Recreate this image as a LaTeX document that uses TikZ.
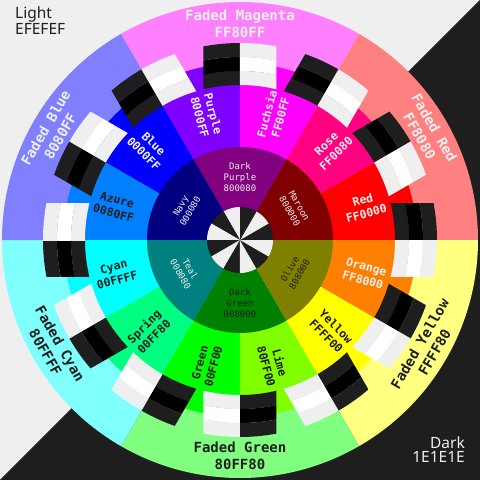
\documentclass[tikz,border=0pt]{standalone}
\usepackage{fontspec}
\setmainfont{Open Sans}
\newfontfamily\labelfont{DejaVu Sans Mono}
\newfontfamily\cornerfont{Noto Sans}
\usetikzlibrary{calc}
\definecolor{mylight}{HTML}{EFEFEF}
\definecolor{mydark}{HTML}{1E1E1E}

\begin{document}
\begin{tikzpicture}[x=1pt, y=1pt,
    fadedlabel/.style={font={\labelfont\bfseries\fontsize{14}{17}\selectfont}, align=center, inner sep=0pt},
    midlabel/.style={font={\labelfont\bfseries\fontsize{11.5}{14}\selectfont}, align=center, inner sep=0pt},
    darklabel/.style={font={\labelfont\fontsize{9}{11}\selectfont}, align=center, inner sep=0pt},
    cornerlabel/.style={font={\cornerfont\fontsize{15.5}{14.5}\selectfont}, inner sep=0pt}]
\useasboundingbox (-240,-240) rectangle (240,240);

% Background
\fill[mylight] (-240,-240) rectangle (240,240);
\fill[mydark] (240,240) -- (240,-240) -- (-240,-240) -- cycle;

% Faded ring
\foreach \name/\hex/\c/\tc [count=\i from 0] in {Faded Magenta/FF80FF/90/mylight, Faded Red/FF8080/30/mylight,
    Faded Yellow/FFFF80/-30/mydark, Faded Green/80FF80/-90/mydark,
    Faded Cyan/80FFFF/-150/mydark, Faded Blue/8080FF/150/mylight} {
    \definecolor{cur}{HTML}{\hex}
    \fill[cur] (0,0) -- (\c-30:238pt) arc[start angle=\c-30, end angle=\c+30, radius=238pt] -- cycle;
}

% Full ring
\foreach \name/\hex/\c/\tc [count=\i from 0] in {Red/FF0000/15/mylight, Rose/FF0080/45/mylight,
    Fuchsia/FF00FF/75/mylight, Purple/8000FF/105/mylight, Blue/0000FF/135/mylight,
    Azure/0080FF/165/mydark, Cyan/00FFFF/195/mydark, Spring/00FF80/225/mydark,
    Green/00FF00/255/mydark, Lime/80FF00/285/mydark, Yellow/FFFF00/315/mydark,
    Orange/FF8000/345/mylight} {
    \definecolor{cur}{HTML}{\hex}
    \fill[cur] (0,0) -- (\c-15:177pt) arc[start angle=\c-15, end angle=\c+15, radius=177pt] -- cycle;
}

% Swatches
\foreach \b in {0,30,...,330} {
    \begin{scope}[rotate=\b-90]
    \foreach \rin/\dk/\lt in {155/mydark/mylight, 169/black/white, 183/mydark/mylight} {
        \pgfmathsetmacro\rout{\rin+14}
        \begin{scope}
            \clip (-36.5,0) rectangle (0,240);
            \fill[\dk, even odd rule] (0,0) circle (\rout pt) (0,0) circle (\rin pt);
        \end{scope}
        \begin{scope}
            \clip (0,0) rectangle (36.5,240);
            \fill[\lt, even odd rule] (0,0) circle (\rout pt) (0,0) circle (\rin pt);
        \end{scope}
    }
    \end{scope}
}

% Dark ring
\foreach \name/\hex/\c/\tc [count=\i from 0] in {Maroon/800000/30/mylight, Dark\\Purple/800080/90/mylight,
    Navy/000080/150/mylight, Teal/008080/210/mylight, Dark\\Green/008000/270/mydark,
    Olive/808000/330/mydark} {
    \definecolor{cur}{HTML}{\hex}
    \fill[cur] (0,0) -- (\c-30:93pt) arc[start angle=\c-30, end angle=\c+30, radius=93pt] -- cycle;
}

% Centre
\foreach \a in {0,60,...,300} {
    \fill[mydark] (0,0) -- (\a:33pt) arc[start angle=\a, end angle=\a+30, radius=33pt] -- cycle;
    \fill[mylight] (0,0) -- (\a+30:33pt) arc[start angle=\a+30, end angle=\a+60, radius=33pt] -- cycle;
}

% Labels
\foreach \name/\hex/\c/\tc [count=\i from 0] in {Faded Magenta/FF80FF/90/mylight, Faded Red/FF8080/30/mylight,
    Faded Yellow/FFFF80/-30/mydark, Faded Green/80FF80/-90/mydark,
    Faded Cyan/80FFFF/-150/mydark, Faded Blue/8080FF/150/mylight} {
    \pgfmathsetmacro\rot{ifthenelse(\c>0, \c-90, \c+90)}
    \node[fadedlabel, text=\tc, rotate=\rot] (faded\i) at (\c:216pt) {\name\\\hex};
}
\foreach \name/\hex/\c/\tc [count=\i from 0] in {Red/FF0000/15/mylight, Rose/FF0080/45/mylight,
    Fuchsia/FF00FF/75/mylight, Purple/8000FF/105/mylight, Blue/0000FF/135/mylight,
    Azure/0080FF/165/mydark, Cyan/00FFFF/195/mydark, Spring/00FF80/225/mydark,
    Green/00FF00/255/mydark, Lime/80FF00/285/mydark, Yellow/FFFF00/315/mydark,
    Orange/FF8000/345/mylight} {
    \pgfmathsetmacro\rot{ifthenelse(\c<90, \c, ifthenelse(\c<270, \c-180, \c-360))}
    \node[midlabel, text=\tc, rotate=\rot] (mid\i) at (\c:129pt) {\name\\\hex};
}
\foreach \name/\hex/\c/\tc [count=\i from 0] in {Maroon/800000/30/mylight, Dark\\Purple/800080/90/mylight,
    Navy/000080/150/mylight, Teal/008080/210/mylight, Dark\\Green/008000/270/mydark,
    Olive/808000/330/mydark} {
    \pgfmathsetmacro\rot{ifthenelse(\c<180, \c-90, \c-270)}
    \node[darklabel, text=\tc, rotate=\rot] (dark\i) at (\c:63pt) {\name\\\hex};
}

\node[cornerlabel, text=mydark, align=left, anchor=west] (light) at (-225,219) {Light\\EFEFEF};
\node[cornerlabel, text=mylight, align=right, anchor=east] (dark) at (225,-209.5) {Dark\\1E1E1E};
\end{tikzpicture}
\end{document}
